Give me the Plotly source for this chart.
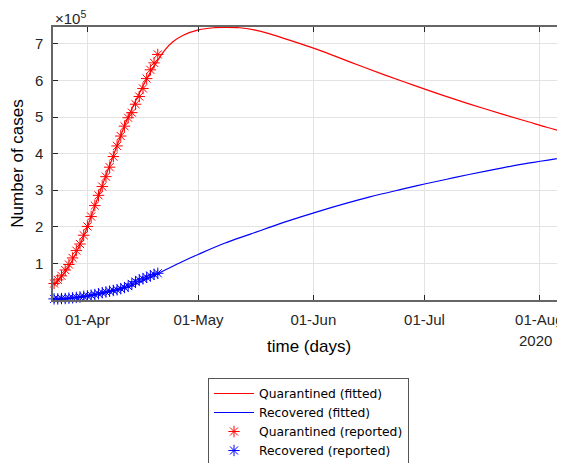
import datetime as dt
import plotly.graph_objects as go

start = dt.datetime(2020, 3, 23)

# Reported data (daily, day 0 = 23-Mar-2020), in units of 1e5
reported_days = list(range(29))
quarantined_reported = [0.45, 0.55, 0.66, 0.82, 0.97, 1.15, 1.35, 1.53, 1.77, 2.01,
                        2.28, 2.58, 2.86, 3.10, 3.37, 3.63, 3.92, 4.21, 4.48, 4.75,
                        4.98, 5.12, 5.35, 5.56, 5.78, 6.05, 6.29, 6.48, 6.71]
recovered_reported = [0.03, 0.03, 0.04, 0.04, 0.05, 0.06, 0.07, 0.08, 0.10, 0.11,
                      0.13, 0.15, 0.17, 0.20, 0.22, 0.24, 0.26, 0.28, 0.31, 0.34,
                      0.38, 0.44, 0.50, 0.55, 0.58, 0.62, 0.66, 0.70, 0.73]

# Fitted curves (read at selected days), in units of 1e5
q_fit_days = [0, 4, 8, 12, 16, 20, 24, 26, 28, 30, 32, 35, 39, 43, 46, 50, 54, 58, 62,
              66, 71, 80, 89, 97, 105, 112, 121, 128, 133, 138]
quarantined_fitted = [0.40, 0.92, 1.75, 2.85, 3.95, 5.00, 5.85, 6.22, 6.55, 6.84, 7.05,
                      7.24, 7.38, 7.44, 7.45, 7.44, 7.38, 7.28, 7.15, 7.02, 6.85, 6.50,
                      6.16, 5.87, 5.59, 5.36, 5.08, 4.87, 4.72, 4.58]
r_fit_days = [0, 4, 8, 12, 16, 20, 24, 28, 34, 39, 46, 53, 62, 71, 85, 94, 100, 106,
              112, 120, 128, 138]
recovered_fitted = [0.00, 0.04, 0.09, 0.16, 0.25, 0.36, 0.52, 0.72, 1.02, 1.25, 1.55,
                    1.80, 2.12, 2.41, 2.81, 3.03, 3.17, 3.30, 3.43, 3.59, 3.74, 3.90]

y_tick_values = [1, 2, 3, 4, 5, 6, 7]
x_tick_dates = ["2020-04-01", "2020-05-01", "2020-06-01", "2020-07-01", "2020-08-01"]
x_tick_labels = ["01-Apr", "01-May", "01-Jun", "01-Jul", "01-Aug"]
year_label = "2020"

SCALE = 1e5


def to_dates(days):
    return [start + dt.timedelta(days=d) for d in days]


FONT = "Liberation Sans, Arial, Helvetica, sans-serif"

fig = go.Figure()
fig.add_trace(go.Scatter(
    x=to_dates(q_fit_days), y=[v * SCALE for v in quarantined_fitted],
    mode="lines", line=dict(color="#ff0000", width=1.2, shape="spline", smoothing=1.0),
    name="Quarantined (fitted)"))
fig.add_trace(go.Scatter(
    x=to_dates(r_fit_days), y=[v * SCALE for v in recovered_fitted],
    mode="lines", line=dict(color="#0000ff", width=1.2, shape="spline", smoothing=1.0),
    name="Recovered (fitted)"))
fig.add_trace(go.Scatter(
    x=to_dates(reported_days), y=[v * SCALE for v in quarantined_reported],
    mode="markers", cliponaxis=False,
    marker=dict(symbol="asterisk-open", size=9.5, color="#ff0000",
                line=dict(color="#ff0000", width=1)),
    name="Quarantined (reported)"))
fig.add_trace(go.Scatter(
    x=to_dates(reported_days), y=[v * SCALE for v in recovered_reported],
    mode="markers", cliponaxis=False,
    marker=dict(symbol="asterisk-open", size=9.5, color="#0000ff",
                line=dict(color="#0000ff", width=1)),
    name="Recovered (reported)"))

# The page body has an 8px default margin, so the figure is sized 8px smaller
fig.update_layout(
    width=557, height=455,
    margin=dict(l=45, r=1, t=19, b=163, autoexpand=False),
    paper_bgcolor="white", plot_bgcolor="white",
    font=dict(family=FONT, size=15, color="#262626"),
    showlegend=True,
    legend=dict(
        x=0.5, xanchor="center", y=-0.2857, yanchor="top",
        bordercolor="#555555", borderwidth=1, bgcolor="white",
        font=dict(family="DejaVu Sans, Liberation Sans, sans-serif", size=12.3,
                  color="#000000"),
        tracegroupgap=0, itemwidth=40,
    ),
    xaxis=dict(
        type="date", automargin=False,
        range=["2020-03-22 17:00", "2020-08-07 16:00"],
        tickvals=x_tick_dates, ticktext=x_tick_labels,
        ticks="inside", ticklen=5, tickcolor="#262626",
        ticklabelstandoff=5,
        showline=True, linecolor="#666666", linewidth=1.5, mirror="ticks",
        showgrid=True, gridcolor="#e3e3e3", gridwidth=1,
        zeroline=False,
    ),
    yaxis=dict(
        automargin=False,
        range=[0, 7.46 * SCALE],
        tickvals=[v * SCALE for v in y_tick_values],
        ticktext=[str(v) for v in y_tick_values],
        ticks="inside", ticklen=5, tickcolor="#262626",
        ticklabelstandoff=5,
        showline=True, linecolor="#666666", linewidth=1.5, mirror="ticks",
        showgrid=True, gridcolor="#e3e3e3", gridwidth=1,
        zeroline=False,
        title=dict(text="Number of cases", font=dict(size=17, color="#000000"), standoff=10),
    ),
    annotations=[
        dict(text="time (days)", xref="paper", yref="paper", x=0.5, y=-0.172,
             xanchor="center", yanchor="middle", showarrow=False,
             font=dict(size=17, color="#000000")),
        dict(text=year_label, xref="x", yref="paper", x="2020-08-01", y=-0.15,
             xanchor="center", yanchor="middle", showarrow=False, xshift=-4,
             font=dict(size=15, color="#262626")),
        dict(text="×10<sup>5</sup>", xref="paper", yref="paper", x=0.0, y=1.0,
             xanchor="left", yanchor="bottom", showarrow=False, xshift=0, yshift=-2,
             font=dict(size=15, color="#262626")),
    ],
)

fig.write_html("out.html")
